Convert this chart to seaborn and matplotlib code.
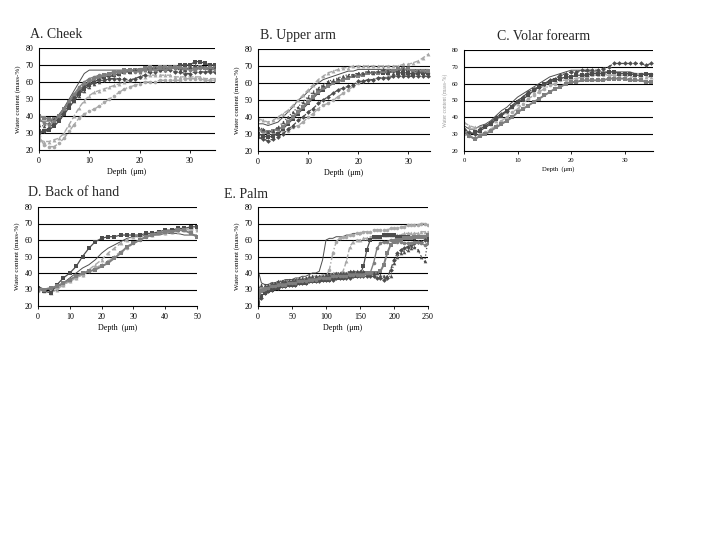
import numpy as np
import matplotlib
matplotlib.use('Agg')
import matplotlib.pyplot as plt
import seaborn as sns

# depths (um)
depth_cheek = list(range(0, 36))
depth_arm = list(range(0, 35))
depth_forearm = list(range(0, 36))
depth_hand = list(range(0, 51, 2))
depth_palm = list(range(0, 251, 5))

# A. Cheek, water content (mass-%)
cheek_1 = [37, 37, 37, 38, 41, 45, 50, 55, 60, 65, 67, 67, 67, 67, 67, 67, 67, 67, 67, 67, 68, 68, 68, 68, 68, 68, 68, 68, 68, 68, 68, 68, 68, 68, 68, 68]
cheek_2 = [28, 23, 22, 22, 24, 27, 31, 35, 39, 41, 43, 44, 46, 48, 50, 52, 54, 56, 57, 58, 59, 60, 60, 60, 61, 61, 61, 61, 61, 62, 62, 62, 62, 61, 61, 61]
cheek_3 = [26, 25, 25, 26, 27, 30, 35, 40, 45, 49, 52, 54, 55, 56, 57, 58, 59, 60, 61, 62, 63, 63, 64, 64, 64, 64, 64, 63, 63, 63, 63, 63, 63, 62, 62, 62]
cheek_4 = [31, 31, 32, 34, 37, 41, 45, 49, 53, 56, 58, 60, 62, 63, 64, 64, 65, 66, 66, 67, 67, 68, 67, 68, 69, 68, 69, 69, 70, 70, 70, 72, 72, 71, 70, 70]
cheek_5 = [40, 39, 38, 38, 40, 44, 48, 52, 55, 58, 60, 62, 63, 64, 65, 66, 66, 67, 67, 67, 67, 68, 69, 68, 69, 69, 68, 69, 68, 67, 68, 68, 69, 68, 67, 68]
cheek_6 = [30, 31, 33, 36, 39, 43, 47, 51, 54, 57, 59, 60, 61, 61, 62, 62, 62, 62, 61, 62, 63, 64, 66, 66, 67, 67, 67, 66, 66, 65, 65, 66, 66, 66, 66, 66]
cheek_7 = [35, 34, 36, 38, 40, 43, 46, 49, 52, 55, 57, 59, 60, 62, 63, 64, 65, 66, 66, 67, 66, 67, 67, 68, 67, 67, 68, 68, 67, 67, 69, 70, 69, 69, 68, 69]
cheek_8 = [38, 36, 35, 37, 40, 44, 49, 53, 57, 60, 62, 63, 64, 64, 65, 65, 66, 66, 67, 66, 66, 67, 67, 67, 68, 67, 68, 68, 69, 68, 67, 67, 68, 68, 69, 67]

# B. Upper arm
arm_1 = [39, 38, 37, 38, 40, 42, 44, 47, 50, 53, 56, 59, 62, 64, 66, 67, 68, 69, 69, 70, 70, 70, 70, 70, 70, 70, 70, 70, 70, 71, 71, 72, 73, 75, 77]
arm_2 = [36, 36, 35, 36, 37, 40, 43, 46, 50, 52, 55, 58, 60, 62, 63, 64, 65, 66, 67, 67, 68, 68, 68, 68, 68, 68, 68, 68, 68, 68, 68, 68, 68, 68, 68]
arm_3 = [30, 29, 28, 29, 30, 33, 36, 39, 42, 45, 48, 51, 54, 56, 58, 60, 61, 62, 63, 64, 65, 65, 66, 66, 66, 66, 66, 67, 66, 66, 66, 65, 66, 66, 66]
arm_4 = [33, 32, 31, 32, 33, 34, 37, 40, 43, 46, 49, 52, 55, 57, 58, 60, 61, 62, 63, 64, 64, 65, 66, 66, 66, 67, 67, 67, 68, 68, 68, 67, 67, 67, 67]
arm_5 = [28, 27, 26, 27, 28, 30, 33, 35, 38, 40, 43, 45, 48, 50, 52, 54, 56, 57, 58, 59, 61, 61, 62, 62, 63, 63, 63, 64, 64, 64, 64, 64, 64, 64, 64]
arm_6 = [32, 31, 30, 30, 31, 31, 32, 34, 35, 37, 40, 42, 45, 47, 48, 50, 52, 54, 56, 58, 60, 61, 62, 62, 63, 63, 64, 64, 65, 65, 65, 66, 66, 66, 66]
arm_7 = [34, 33, 31, 32, 34, 37, 40, 43, 46, 49, 52, 55, 57, 59, 61, 62, 63, 64, 65, 65, 66, 66, 67, 66, 67, 68, 67, 66, 67, 68, 67, 66, 67, 66, 65]

# C. Volar forearm
forearm_1 = [33, 31, 30, 33, 35, 37, 40, 42, 44, 47, 50, 52, 55, 57, 58, 60, 62, 63, 65, 66, 67, 67, 68, 68, 68, 68, 69, 70, 72, 72, 72, 72, 72, 72, 71, 72]
forearm_2 = [35, 33, 33, 35, 36, 38, 41, 44, 46, 49, 52, 54, 56, 58, 60, 62, 64, 65, 66, 67, 68, 68, 68, 67, 67, 67, 67, 67, 67, 67, 67, 67, 66, 66, 66, 66]
forearm_3 = [30, 29, 28, 30, 31, 33, 35, 38, 40, 43, 45, 48, 51, 53, 55, 57, 59, 60, 62, 62, 63, 63, 64, 64, 65, 65, 65, 65, 65, 65, 65, 66, 66, 66, 66, 66]
forearm_4 = [32, 29, 27, 29, 30, 32, 34, 36, 38, 40, 43, 45, 47, 49, 51, 53, 55, 57, 58, 60, 61, 61, 62, 62, 62, 62, 62, 63, 63, 63, 63, 62, 62, 62, 61, 61]
forearm_5 = [37, 35, 34, 34, 35, 36, 38, 41, 43, 46, 48, 51, 53, 55, 57, 59, 61, 62, 63, 64, 64, 65, 65, 66, 66, 66, 66, 65, 65, 65, 65, 64, 64, 64, 64, 64]
forearm_6 = [31, 30, 31, 32, 34, 36, 39, 41, 44, 46, 49, 51, 53, 56, 58, 60, 61, 62, 63, 64, 64, 65, 65, 65, 66, 66, 66, 67, 67, 66, 66, 66, 65, 65, 66, 65]

# D. Back of hand
hand_1 = [31, 29, 28, 33, 37, 40, 44, 50, 55, 59, 61, 62, 62, 63, 63, 63, 63, 64, 64, 65, 66, 66, 67, 67, 68, 68]
hand_2 = [30, 29, 28, 30, 33, 35, 37, 39, 42, 45, 48, 52, 55, 58, 60, 62, 62, 63, 63, 64, 64, 65, 65, 66, 66, 66]
hand_3 = [32, 30, 30, 31, 34, 37, 40, 43, 45, 48, 52, 55, 57, 59, 61, 62, 62, 63, 63, 63, 64, 64, 64, 63, 63, 63]
hand_4 = [29, 30, 30, 31, 33, 35, 37, 39, 41, 43, 45, 47, 50, 53, 55, 58, 60, 62, 63, 64, 64, 65, 66, 66, 67, 67]
hand_5 = [30, 30, 31, 32, 34, 36, 38, 40, 41, 42, 44, 46, 49, 52, 56, 58, 60, 62, 63, 64, 65, 65, 66, 66, 64, 62]

# E. Palm
palm_1 = [42, 34, 33, 33, 34, 34, 35, 35, 36, 36, 36, 37, 37, 38, 38, 39, 40, 40, 41, 48, 60, 61, 61, 62, 62, 62, 63, 63, 64, 64, 63,
          None, None, None, None, None, None, None, None, None, None, None, None, None, None, None, None, None, None, None, None]
palm_2 = [30, 31, 31, 32, 32, 33, 33, 33, 34, 34, 34, 35, 35, 35, 36, 36, 36, 37, 37, 37, 38, 42, 52, 59, 61, 62, 62, 63, 63, 64, 64,
          65, 65, 65, 66, 66, 66, 66, 66, 67, 67, 67, 68, 68, 69, 69, 69, 69, 70, 70, 69]
palm_3 = [28, 30, 31, 32, 33, 33, 34, 34, 35, 35, 35, 36, 36, 36, 37, 37, 38, 38, 38, 39, 39, 39, 40, 40, 40, 41, 47, 56, 59, 60, 60,
          61, 61, 62, 62, 62, 62, 63, 63, 63, 63, 63, 63, 64, 64, 64, 64, 64, 65, 65, 65]
palm_4 = [22, 26, 28, 29, 30, 31, 31, 32, 32, 33, 33, 33, 34, 34, 34, 35, 35, 35, 36, 36, 36, 36, 37, 37, 37, 37, 38, 38, 38, 38, 39,
          44, 54, 60, 62, 62, 62, 63, 63, 63, 63, 62, 62, 62, 62, 61, 61, 62, 62, 62, 62]
palm_5 = [25, 29, 30, 31, 32, 32, 33, 33, 34, 34, 34, 35, 35, 35, 36, 36, 36, 36, 37, 37, 37, 38, 38, 38, 39, 39, 39, 40, 40, 40, 40,
          40, 40, 40, 40, 40, 41, 45, 52, 57, 59, 60, 60, 61, 61, 61, 62, 62, 62, 62, 63]
palm_6 = [20, 25, 28, 29, 30, 31, 31, 32, 32, 33, 33, 33, 34, 34, 34, 35, 35, 35, 35, 36, 36, 36, 36, 37, 37, 37, 37, 37, 38, 38, 38,
          38, 38, 38, 38, 37, 37, 36, 37, 42, 48, 52, 54, 55, 56, 57, 58, 59, 59, 60, 60]
palm_7 = [32, 33, 33, 33, 34, 34, 35, 35, 35, 36, 36, 36, 37, 37, 37, 38, 38, 38, 38, 38, 39, 39, 39, 40, 40, 40, 40, 41, 41, 41, 41,
          41, 40, 40, 40, 40, 39, 38, 38, 38, 46, 50, 52, 53, 54, 55, 56, 54, 50, 47, 60]
palm_8 = [27, 30, 31, 31, 32, 32, 33, 33, 33, 34, 34, 34, 35, 35, 35, 36, 36, 36, 37, 37, 37, 37, 38, 38, 38, 38, 38, 39, 39, 39, 39,
          39, 40, 40, 46, 55, 58, 59, 59, 60, 60, 59, 59, 58, 58, 58, 59, 59, 58, 57, 58]

dark = '#4d4d4d'
mid = '#7f7f7f'
light = '#a8a8a8'
# color, marker, linestyle, linewidth, markersize
line_styles = [
    (dark, None, '-', 0.7, 0),
    (light, 'o', '-.', 1.0, 2.6),
    (light, '^', '--', 1.0, 2.8),
    (dark, 's', '-', 0.9, 2.6),
    (mid, 's', '-', 1.4, 3.0),
    (dark, 'D', '--', 0.9, 2.4),
    (dark, '^', ':', 0.9, 2.6),
    (mid, 'o', '-', 1.0, 2.6),
]

panels = [
    ('A. Cheek', depth_cheek, [cheek_1, cheek_2, cheek_3, cheek_4, cheek_5, cheek_6, cheek_7, cheek_8],
     (0, 35), [0, 10, 20, 30], [39, 48, 215, 150], (30, 35)),
    ('B. Upper arm', depth_arm, [arm_2, arm_6, arm_1, arm_3, arm_4, arm_5, arm_7],
     (0, 34.3), [0, 10, 20, 30], [258, 49, 430, 151], (260, 36)),
    ('C. Volar forearm', depth_forearm, [forearm_2, forearm_3, forearm_5, forearm_6, forearm_4, forearm_1],
     (0, 35.3), [0, 10, 20, 30], [464, 50, 653, 151], (497, 36)),
    ('D. Back of hand', depth_hand, [hand_3, hand_4, hand_2, hand_1, hand_5],
     (0, 50), [0, 10, 20, 30, 40, 50], [38, 207, 197, 306], (28, 193)),
    ('E. Palm', depth_palm, [palm_1, palm_2, palm_3, palm_4, palm_5, palm_6, palm_7, palm_8],
     (0, 250), [0, 50, 100, 150, 200, 250], [258, 207, 428, 306], (224, 195)),
]

sns.set_theme(style='white')
plt.rcParams['font.family'] = ['Liberation Serif', 'DejaVu Serif']

W, H = 720, 540
fig = plt.figure(figsize=(7.2, 5.4), dpi=100)

for i, (title, depth, curves, xlim, xticks, box, tpos) in enumerate(panels):
    x0, y0, x1, y1 = box
    ax = fig.add_axes([x0 / W, 1 - y1 / H, (x1 - x0) / W, (y1 - y0) / H])
    small = 4.8 if i == 2 else 5.8
    for k, vals in enumerate(curves):
        c, m, ls, lw, ms = line_styles[k % len(line_styles)]
        y = np.array(vals, dtype=float)
        sns.lineplot(x=depth, y=y, ax=ax, color=c, marker=m, markersize=ms,
                     markeredgewidth=0, linestyle=ls, linewidth=lw,
                     estimator=None, sort=False, legend=False)
    ax.set_xlim(*xlim)
    ax.set_ylim(20, 80)
    ax.set_xticks(xticks)
    ax.set_yticks(range(20, 81, 10))
    for yv in range(30, 81, 10):
        ax.axhline(yv, color='black', lw=0.8, zorder=0)
    for s in ['top', 'right']:
        ax.spines[s].set_visible(False)
    for s in ['left', 'bottom']:
        ax.spines[s].set_color('black')
        ax.spines[s].set_linewidth(0.8)
    ax.tick_params(axis='x', direction='out', length=2, width=0.6, pad=3,
                   labelsize=small, colors='black', bottom=True)
    ax.tick_params(axis='y', direction='out', length=0, pad=4,
                   labelsize=small, colors='black', left=True)
    ax.set_xlabel('Depth  (\u03bcm)', fontsize=small, labelpad=2, color='black')
    ax.set_ylabel('Water content (mass-%)', fontsize=small - 0.8, labelpad=3,
                  color='#999999' if i == 2 else 'black')
    fig.text(tpos[0] / W, 1 - tpos[1] / H, title, fontsize=10, ha='left', va='center')

fig.savefig('out.png', dpi=100)
plt.close(fig)
